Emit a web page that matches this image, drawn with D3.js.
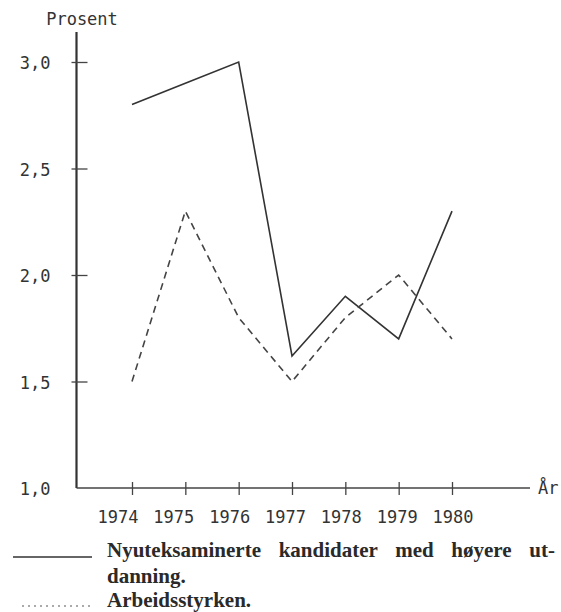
<html>
<head>
  <meta charset="utf-8">
  <script src="https://d3js.org/d3.v7.min.js"></script>
  <style>
    body { margin: 0; background: #fff; }
    .mono { font-family: "DejaVu Sans Mono", "Liberation Mono", monospace; fill: #333; }
    .legend { font-family: "Liberation Serif", "Times New Roman", serif; font-weight: bold; fill: #2a2a2a; }
    .axis line { stroke: #444; }
    .axis .domain { stroke: none; }
  </style>
</head>
<body>
  <svg id="chart" width="561" height="612"></svg>

  <script>
    // data
    const years = [1974, 1975, 1976, 1977, 1978, 1979, 1980];
    const kandidater = [2.8, 2.9, 3.0, 1.62, 1.9, 1.7, 2.3];   // solid line
    const arbeidsstyrken = [1.5, 2.3, 1.8, 1.5, 1.8, 2.0, 1.7]; // dashed line
    const yTicks = [1.0, 1.5, 2.0, 2.5, 3.0];

    const svg = d3.select("svg#chart");

    const axisX = 76.5;   // where the vertical axis sits
    const axisY = 488;    // where the horizontal axis sits

    const x = d3.scaleLinear().domain([1974, 1980]).range([132, 452]);
    // typed year labels drift a little from the ticks
    const xLabel = d3.scaleLinear().domain([1974, 1980]).range([118, 453]);
    const y = d3.scaleLinear().domain([1, 3]).range([axisY, 62]);

    // axis lines
    svg.append("line")
       .attr("x1", axisX).attr("x2", axisX)
       .attr("y1", 32).attr("y2", axisY)
       .attr("stroke", "#333").attr("stroke-width", 2.2);
    svg.append("line")
       .attr("x1", axisX).attr("x2", 530)
       .attr("y1", axisY).attr("y2", axisY)
       .attr("stroke", "#444").attr("stroke-width", 1.6);

    // y ticks cross the axis
    let leftAxis = d3.axisLeft(y).tickValues(yTicks)
                     .tickFormat(d3.format(".1f"));
    let yg = svg.append("g").attr("class", "y axis")
                .attr("transform", `translate(${axisX},0)`)
                .call(leftAxis);
    yg.selectAll(".tick line").attr("x1", -5).attr("x2", 11).attr("stroke-width", 1.3);
    yg.selectAll(".tick").filter(d => d === 1).select("line").remove();
    yg.selectAll(".tick text")
      .attr("class", "mono")
      .attr("x", -26).attr("dy", "0.4em")
      .attr("font-size", 17)
      .style("font-family", null)
      .text(d => d3.format(".1f")(d).replace(".", ","));
    yg.attr("font-family", null).attr("font-size", null);

    // x ticks cross the axis as well
    let bottomAxis = d3.axisBottom(x).tickValues(years).tickFormat("");
    let xg = svg.append("g").attr("class", "x axis")
                .attr("transform", `translate(0,${axisY})`)
                .call(bottomAxis);
    xg.selectAll(".tick line").attr("y1", -6).attr("y2", 7).attr("stroke-width", 1.3);

    svg.selectAll("text.year")
       .data(years)
       .join("text")
       .attr("class", "year mono")
       .attr("x", d => xLabel(d))
       .attr("y", 523)
       .attr("text-anchor", "middle")
       .attr("font-size", 17)
       .text(d => d);

    svg.append("text").attr("class", "mono")
       .attr("x", 82).attr("y", 25)
       .attr("text-anchor", "middle")
       .attr("font-size", 17)
       .text("Prosent");

    svg.append("text").attr("class", "mono")
       .attr("x", 538).attr("y", 494)
       .attr("font-size", 17)
       .text("År");

    // the two series
    const line = d3.line().x((d, i) => x(years[i])).y(d => y(d));

    svg.append("path")
       .datum(kandidater)
       .attr("d", line)
       .attr("fill", "none")
       .attr("stroke", "#333")
       .attr("stroke-width", 1.6);

    svg.append("path")
       .datum(arbeidsstyrken)
       .attr("d", line)
       .attr("fill", "none")
       .attr("stroke", "#444")
       .attr("stroke-width", 1.6)
       .attr("stroke-dasharray", "7,5");

    // legend
    let legend = svg.append("g").attr("id", "legend");
    legend.append("line")
          .attr("x1", 13).attr("x2", 92).attr("y1", 557).attr("y2", 557)
          .attr("stroke", "#333").attr("stroke-width", 1.6);
    legend.append("line")
          .attr("x1", 22).attr("x2", 90).attr("y1", 606).attr("y2", 606)
          .attr("stroke", "#aaa").attr("stroke-width", 2)
          .attr("stroke-dasharray", "2,4");

    const legendLines = [
      {text: "Nyuteksaminerte kandidater med høyere ut-", y: 557, justify: 555},
      {text: "danning.", y: 583},
      {text: "Arbeidsstyrken.", y: 607}
    ];
    legend.selectAll("text.legend")
          .data(legendLines)
          .join("text")
          .attr("class", "legend")
          .attr("x", 107)
          .attr("y", d => d.y)
          .attr("font-size", 21)
          .text(d => d.text)
          .each(function(d) {
            // justified like the printed page: widen the word gaps
            if (d.justify) {
              let gaps = d.text.split(" ").length - 1;
              let natural = this.getComputedTextLength();
              let extra = (d.justify - 107 - natural) / gaps;
              d3.select(this).attr("word-spacing", extra);
            }
          });
  </script>
</body>
</html>
